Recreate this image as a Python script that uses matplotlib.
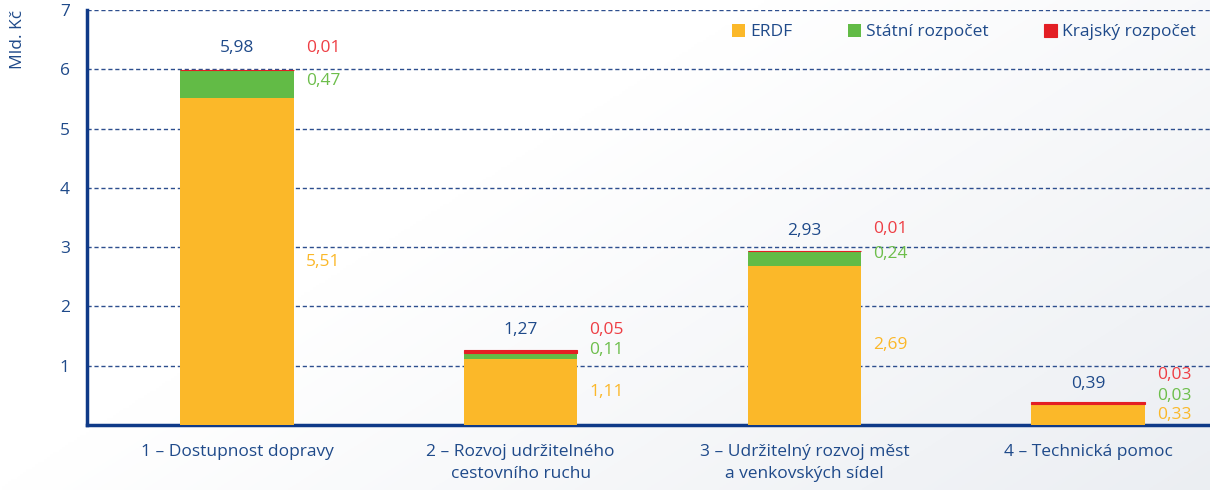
import numpy as np
import matplotlib.pyplot as plt

# data (Mld. Kč)
categories = ['1 – Dostupnost dopravy',
              '2 – Rozvoj udržitelného\ncestovního ruchu',
              '3 – Udržitelný rozvoj měst\na venkovských sídel',
              '4 – Technická pomoc']
erdf = [5.51, 1.11, 2.69, 0.33]
statni = [0.47, 0.11, 0.24, 0.03]
krajsky = [0.01, 0.05, 0.01, 0.03]
totals = [5.98, 1.27, 2.93, 0.39]
series_names = ['ERDF', 'Státní rozpočet', 'Krajský rozpočet']

YELLOW = '#FBB829'
GREEN = '#62BB46'
RED = '#E31E24'
BLUE = '#1F4A8A'
AXBLUE = '#0F3A88'

plt.rcParams['font.family'] = ['Open Sans', 'DejaVu Sans']
plt.rcParams['font.size'] = 12.5

fig = plt.figure(figsize=(12.1, 4.9), dpi=100)

# background gradient
bg = fig.add_axes([0, 0, 1, 1], zorder=-10)
yy, xx = np.mgrid[0:1:200j, 0:1:400j]
grad = np.clip(0.55 * xx + 0.35 * yy - 0.35, 0, 1)
c0 = np.array([1.0, 1.0, 1.0])
c1 = np.array([0.86, 0.88, 0.91])
img = c0 + grad[..., None] * (c1 - c0)
bg.imshow(img, aspect='auto', extent=[0, 1, 0, 1], origin='upper')
bg.axis('off')

ax = fig.add_axes([87 / 1210, 65 / 490, 1 - 87 / 1210, 415 / 490])
ax.patch.set_alpha(0)

x = np.arange(len(categories))
w = 0.40
erdf_a = np.array(erdf)
stat_a = np.array(statni)
kraj_a = np.array(krajsky)
ax.bar(x, erdf_a, w, color=YELLOW, label=series_names[0], zorder=3)
ax.bar(x, stat_a, w, bottom=erdf_a, color=GREEN, label=series_names[1], zorder=3)
ax.bar(x, kraj_a, w, bottom=erdf_a + stat_a, color=RED, edgecolor=RED, linewidth=0.8,
       label=series_names[2], zorder=3)

ax.set_xlim(-0.529, 3.43)
ax.set_ylim(0, 7)
ax.set_yticks(range(1, 8))
ax.yaxis.grid(True, linestyle=(0, (3, 2)), color='#2D4E8E', linewidth=1, zorder=0)
ax.set_xticks(x)
ax.set_xticklabels(categories, color=BLUE, linespacing=1.5)
ax.tick_params(axis='x', length=0, pad=14)
ax.tick_params(axis='y', length=0, pad=16, labelcolor=BLUE)
for lab in ax.get_yticklabels():
    lab.set_horizontalalignment('center')
for s in ['top', 'right']:
    ax.spines[s].set_visible(False)
for s in ['left', 'bottom']:
    ax.spines[s].set_color(AXBLUE)
    ax.spines[s].set_linewidth(2.5)

fig.text(18 / 1210, 1 - 10 / 490, 'Mld. Kč', rotation=90, ha='center', va='top', color=BLUE)

# value labels (offsets in pixels)
tot_off = [22, 20, 20, 18]
red_off = [22, 20, 22, 27]
grn_off = [-11, 0, -3, 6]
fmt = lambda v: f'{v:.2f}'.replace('.', ',')
xr = w / 2
for i in range(len(categories)):
    top = erdf[i] + statni[i] + krajsky[i]
    ax.annotate(fmt(totals[i]), (x[i], top), xytext=(0, tot_off[i]), textcoords='offset pixels',
                ha='center', va='center', color=BLUE)
    ax.annotate(fmt(krajsky[i]), (x[i] + xr, top), xytext=(12, red_off[i]), textcoords='offset pixels',
                ha='left', va='center', color='#EE3E44')
    ax.annotate(fmt(statni[i]), (x[i] + xr, top), xytext=(12, grn_off[i]), textcoords='offset pixels',
                ha='left', va='center', color='#6DBE4B')
    if i == 3:
        ypos, off = top, -13
    else:
        ypos, off = erdf[i] / 2, 0
    ax.annotate(fmt(erdf[i]), (x[i] + xr, ypos), xytext=(12, off), textcoords='offset pixels',
                ha='left', va='center', color=YELLOW)

leg = ax.legend(ncol=3, loc='upper right', bbox_to_anchor=(1.0, 1.0), frameon=False,
                handlelength=0.75, handleheight=0.75, handletextpad=0.3, columnspacing=3.2,
                borderaxespad=0.4)
for t in leg.get_texts():
    t.set_color(BLUE)

fig.savefig('out.png', dpi=100)
